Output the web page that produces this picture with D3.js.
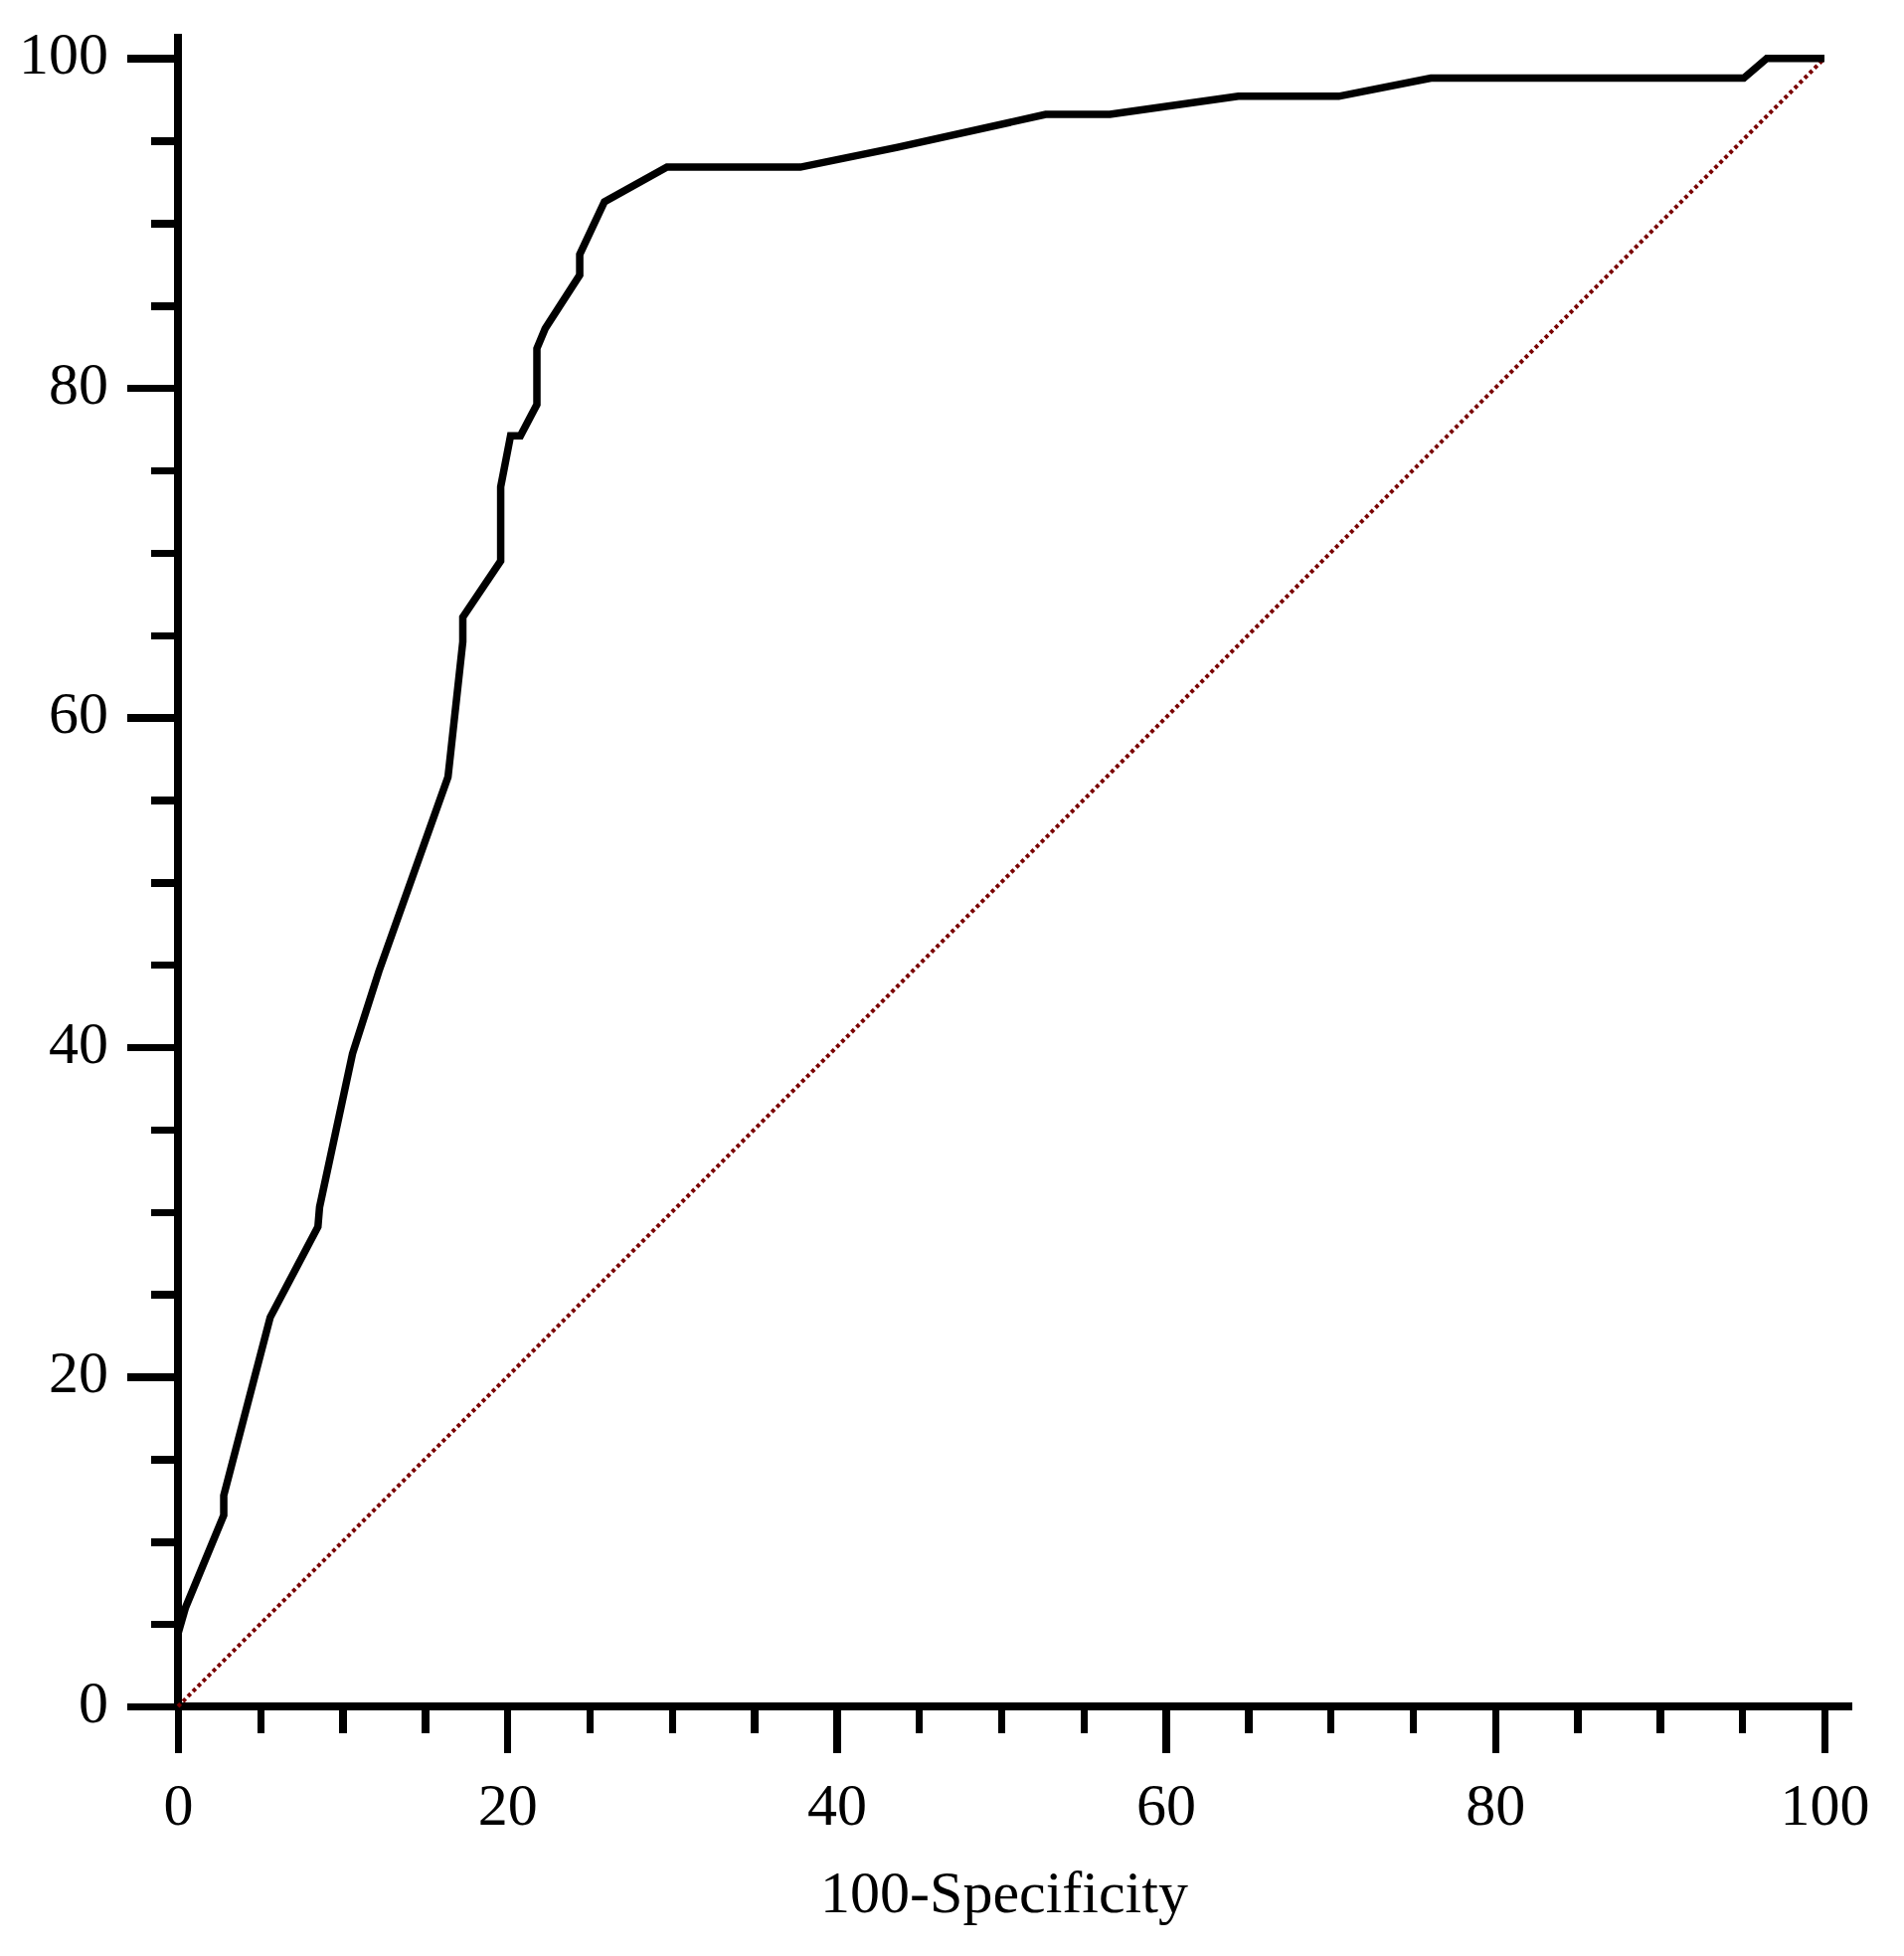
<!DOCTYPE html>
<html>
  <head>
    <meta charset="utf-8">
    <title>ROC curve</title>
    <script src="https://d3js.org/d3.v7.min.js"></script>
    <style>
      body { margin: 0; background: #fff; }
      text { font-family: "Liberation Serif", "Times New Roman", serif; fill: #000; }
    </style>
  </head>
  <body>
    <div id="chart"></div>
    <script>
      // roc curve (100-specificity vs sensitivity)
      var fpr = [0, 0.46, 2.78, 2.78, 5.6, 8.5, 8.6, 10.6, 12.2, 16.4, 16.5, 17.3, 17.3, 19.6, 19.6,
                 20.2, 20.8, 21.8, 21.8, 22.3, 24.4, 24.4, 25.9, 29.7, 37.8, 43.7, 52.7, 56.6,
                 64.4, 70.5, 76.1, 95.1, 96.5, 100];
      var tpr = [4.4, 6.0, 11.6, 12.8, 23.6, 29.1, 30.3, 39.6, 44.6, 56.4, 57.3, 64.6, 66.1, 69.5, 74.0,
                 77.1, 77.1, 79.0, 82.4, 83.6, 86.85, 88.1, 91.3, 93.4, 93.4, 94.6, 96.6, 96.6,
                 97.7, 97.7, 98.8, 98.8, 100, 100];
      // reference line (chance)
      var diagX = [0, 100];
      var diagY = [0, 100];
      // ticks
      var majorTicks = [0, 20, 40, 60, 80, 100];
      var minorTicks = d3.range(0, 101, 5).filter(function(d) { return d % 20 != 0; });
      var xTitle = "100-Specificity";

      var width = 1915, height = 1967;
      var x = d3.scaleLinear().domain([0, 100]).range([179, 1835]);
      var y = d3.scaleLinear().domain([0, 100]).range([1716, 58.7]);

      var svg = d3.select("#chart")
        .append("svg")
          .attr("width", width)
          .attr("height", height);

      // minor ticks
      svg.append("g")
          .attr("transform", "translate(0," + y(0) + ")")
          .call(d3.axisBottom(x).tickValues(minorTicks).tickSize(27).tickFormat(""));
      svg.append("g")
          .attr("transform", "translate(" + x(0) + ",0)")
          .call(d3.axisLeft(y).tickValues(minorTicks).tickSize(27).tickFormat(""));
      // major ticks with labels
      var xAxis = svg.append("g")
          .attr("transform", "translate(0," + y(0) + ")")
          .call(d3.axisBottom(x).tickValues(majorTicks).tickSize(47));
      xAxis.selectAll("text")
          .attr("y", 119)
          .attr("dy", 0);
      var yAxis = svg.append("g")
          .attr("transform", "translate(" + x(0) + ",0)")
          .call(d3.axisLeft(y).tickValues(majorTicks).tickSize(51));
      yAxis.selectAll("text")
          .attr("x", -70)
          .attr("dy", 15);
      svg.selectAll(".domain").remove();
      svg.selectAll(".tick line")
          .attr("stroke", "#000")
          .attr("stroke-width", 7.5)
          .attr("shape-rendering", "crispEdges");
      svg.selectAll(".tick text")
          .style("font-family", "'Liberation Serif', serif")
          .style("font-size", "60px")
          .attr("fill", "#000");

      // axis lines, running a little past 100
      svg.append("line")
          .attr("x1", x(0) - 3.75).attr("x2", x(101.7))
          .attr("y1", y(0)).attr("y2", y(0))
          .attr("stroke", "#000").attr("stroke-width", 7.5)
          .attr("shape-rendering", "crispEdges");
      svg.append("line")
          .attr("x1", x(0)).attr("x2", x(0))
          .attr("y1", y(0)).attr("y2", y(101.5))
          .attr("stroke", "#000").attr("stroke-width", 7.5)
          .attr("shape-rendering", "crispEdges");

      // diagonal
      svg.append("path")
          .datum(d3.zip(diagX, diagY))
          .attr("d", d3.line().x(function(d) { return x(d[0]); }).y(function(d) { return y(d[1]); }))
          .attr("fill", "none")
          .attr("stroke", "#7a0000")
          .attr("stroke-width", 4)
          .attr("stroke-dasharray", "3.8 3.3");

      // roc curve
      svg.append("path")
          .datum(d3.zip(fpr, tpr))
          .attr("d", d3.line().x(function(d) { return x(d[0]); }).y(function(d) { return y(d[1]); }))
          .attr("fill", "none")
          .attr("stroke", "#000")
          .attr("stroke-width", 7.5);

      // axis title
      svg.append("text")
          .attr("x", (x(0) + x(100)) / 2 + 3)
          .attr("y", 1923)
          .attr("text-anchor", "middle")
          .style("font-size", "60px")
          .text(xTitle);
    </script>
  </body>
</html>
